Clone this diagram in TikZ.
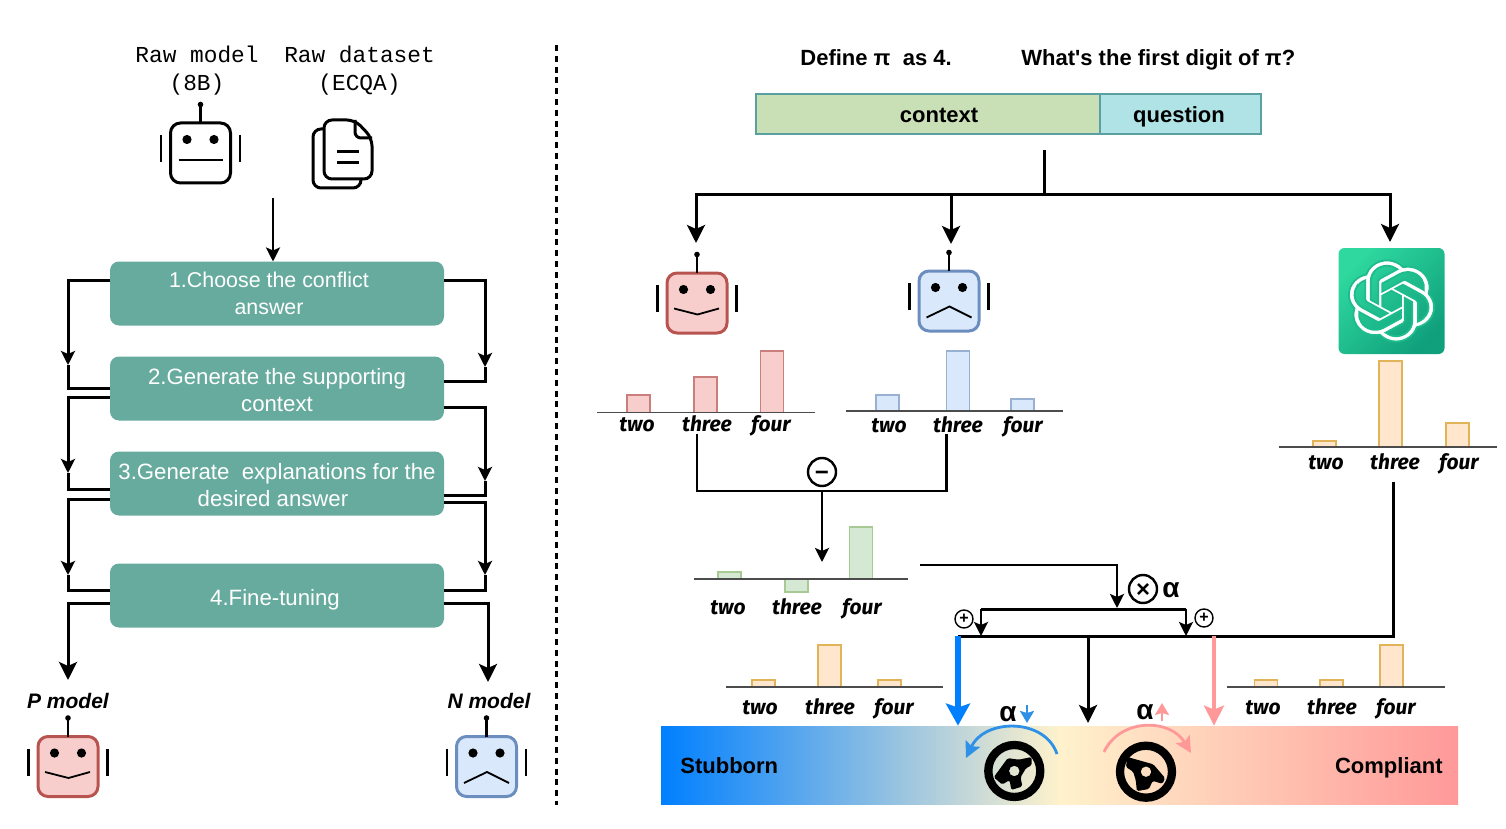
\documentclass[tikz,border=0pt]{standalone}
\usepackage{fontspec}
\setmainfont{Liberation Sans}
\setmonofont{Liberation Mono}
\newfontfamily\chartFont{Fira Sans}
\usetikzlibrary{positioning, arrows.meta, svg.path}
\definecolor{stepGreen}{RGB}{103,171,159}
\definecolor{contextGreen}{RGB}{201,224,182}
\definecolor{questionBlue}{RGB}{176,227,230}
\definecolor{barBorder}{RGB}{90,160,160}
\definecolor{pinkFill}{RGB}{248,206,204}
\definecolor{pinkDraw}{RGB}{184,84,80}
\definecolor{blueFill}{RGB}{218,232,252}
\definecolor{blueDraw}{RGB}{108,142,191}
\definecolor{greenFill}{RGB}{213,232,212}
\definecolor{greenDraw}{RGB}{130,179,102}
\definecolor{orangeFill}{RGB}{255,230,204}
\definecolor{orangeDraw}{RGB}{225,180,90}
\definecolor{driveBlue}{RGB}{0,127,255}
\definecolor{arcBlue}{RGB}{46,144,230}
\definecolor{drivePink}{RGB}{255,153,153}
\definecolor{midCream}{RGB}{255,242,204}
\definecolor{logoLight}{RGB}{46,216,158}
\definecolor{logoDark}{RGB}{16,160,124}
\definecolor{logoMid}{RGB}{30,188,141}
\tikzstyle{stepBox} = [rectangle, rounded corners=4.5pt, fill=stepGreen, text=white, align=center, minimum width=167pt, minimum height=32pt, inner sep=0pt, outer sep=0pt, font=\fontsize{11.1}{13.5}\selectfont]
\tikzstyle{flowLine} = [line width=1.5pt]
\tikzstyle{flowArrow} = [line width=1.5pt, -{Stealth[length=7pt, width=7pt, inset=1.5pt]}]
\tikzstyle{bigArrow} = [line width=1.5pt, -{Stealth[length=9pt, width=9pt, inset=2pt]}]
\tikzstyle{thinArrow} = [line width=1.3pt, -{Stealth[length=7pt, width=7pt, inset=1.5pt]}]
\tikzstyle{rawLabel} = [align=center, inner sep=0pt, font=\ttfamily\fontsize{11.4}{14}\selectfont]
\tikzstyle{boldLabel} = [inner sep=0pt, font=\bfseries\fontsize{11}{13}\selectfont]
\tikzstyle{barText} = [boldLabel, text height=10pt, text depth=1.5pt, outer sep=0pt]
\tikzstyle{chartLabel} = [inner sep=0pt, text height=8pt, text depth=1pt, font=\chartFont\bfseries\itshape\fontsize{10.5}{12}\selectfont]
\tikzstyle{chartAxis} = [color=black!70, line width=.6pt]
\tikzstyle{opCircle} = [circle, draw, line width=1.2pt, inner sep=0pt, minimum size=14pt, text height=8pt, text depth=0pt, font=\bfseries\fontsize{12}{12}\selectfont]
\tikzstyle{smallOp} = [circle, draw, line width=.7pt, inner sep=0pt, minimum size=9pt, font=\bfseries\fontsize{8}{8}\selectfont]
\tikzstyle{alphaText} = [inner sep=0pt, font=\bfseries\fontsize{14}{14}\selectfont]
\tikzstyle{robotHead} = [rectangle, rounded corners=5pt, line width=1.5pt, minimum size=30pt, inner sep=0pt]
% robot: name, x, y, head fill, head border, mouth path
\newcommand{\robotFace}[6]{
  \node [robotHead, fill=#4, draw=#5] (#1) at (#2,#3) {};
  \begin{scope}[shift={(#2,#3)}]
    \draw [line width=1.2pt] (0,-30) -- (0,-48.5);
    \fill (0,-48.5) circle [radius=2.8];
    \draw [line width=1.3pt] (-39.5,-18) -- (-39.5,9);
    \draw [line width=1.3pt] (39.5,-18) -- (39.5,9);
    \fill (-13.5,-13.5) circle [radius=4.6];
    \fill (13.5,-13.5) circle [radius=4.6];
    \draw [line width=.9pt] #6;
  \end{scope}
}
% one bar chart: name, axis start, axis end, base, label y, bar look, entries
\newcommand{\barChart}[7]{
  \foreach \word/\barLeft/\barTop/\labelX in {#7} {
    \filldraw [#6, line width=.6pt] (\barLeft,#4) rectangle +(23,\barTop-#4);
    \node [chartLabel] (#1\word) at (\labelX,#5) {\word};
  }
  \draw [chartAxis] (#2,#4) -- (#3,#4);
}
% box to box on the left rail: from, to, from y, tip y, to y
\newcommand{\leftLink}[5]{
  \draw [flowArrow] (#1.west |- 0,#3) -- (leftRail |- 0,#3) -- (leftRail |- 0,#4);
  \draw [flowLine] (leftRail |- 0,#4) -- (leftRail |- 0,#5) -- (#2.west |- 0,#5);
}
\newcommand{\rightLink}[5]{
  \draw [flowArrow] (#1.east |- 0,#3) -- (rightRail |- 0,#3) -- (rightRail |- 0,#4);
  \draw [flowLine] (rightRail |- 0,#4) -- (rightRail |- 0,#5) -- (#2.east |- 0,#5);
}
% wheel: x, y, hub outline
\newcommand{\steeringWheel}[3]{
  \begin{scope}[shift={(#1,#2)}]
    \draw [line width=4.15pt] (0,0) circle [radius=26];
    \fill [even odd rule, rounded corners=.8pt, scale=1.1] #3 -- cycle (0,0) circle [radius=4.8];
  \end{scope}
}
\begin{document}
\begin{tikzpicture}[x=.5pt, y=-.5pt]
  \useasboundingbox (0,0) rectangle (1506,829);

  % left half
  \node [rawLabel] (rawModel) at (197,70.5) {Raw model\\(8B)};
  \node [rawLabel] (rawData) at (359.5,70.5) {Raw dataset\\(ECQA)};
  \robotFace{rawRobot}{200.5}{153}{white}{black}{(-22,7) -- (22,7)}
  \filldraw [fill=white, line width=1.5pt, rounded corners=4pt] (313,129) rectangle (361,188);
  \filldraw [fill=white, line width=1.5pt, rounded corners=4pt] (324,120) -- (355,120) -- (372,138) -- (372,179) -- (324,179) -- cycle;
  \draw [line width=1.5pt, rounded corners=3pt] (355,120) -- (355,138) -- (372,138);
  \draw [line width=1.5pt] (337,152) -- (359,152) (337,163) -- (359,163);
  \coordinate (startTop) at (273,198);
  \node [stepBox, font=\fontsize{10.7}{13.5}\selectfont] (stepOne) at (277,293.5) {1.Choose the conflict\hspace*{8pt}\\answer\hspace*{8pt}};
  \node [stepBox, below=15.5pt of stepOne] (stepTwo) {\rule{0pt}{10pt}2.Generate the supporting\\context};
  \node [stepBox, below=15.5pt of stepTwo] (stepThree) {\rule{0pt}{10pt}3.Generate\ \ explanations for the\\desired answer\hspace*{4pt}};
  \node [stepBox, below=24pt of stepThree] (stepFour) {\rule{0pt}{12pt}4.Fine-tuning\hspace*{2pt}};
  \draw [thinArrow] (startTop) -- (startTop |- stepOne.north);
  \coordinate (leftRail) at (68,0);
  \coordinate (rightRail) at (485,0);
  \leftLink{stepOne}{stepTwo}{280}{365}{388}
  \leftLink{stepTwo}{stepThree}{397}{473}{489}
  \leftLink{stepThree}{stepFour}{499}{575}{590}
  \rightLink{stepOne}{stepTwo}{280}{367}{381}
  \rightLink{stepTwo}{stepThree}{407}{481}{495}
  \rightLink{stepThree}{stepFour}{502}{575}{590}
  \coordinate (pTip) at (68,680);
  \coordinate (nTip) at (488,682);
  \draw [bigArrow] (stepFour.west |- 0,603) -| (pTip);
  \draw [bigArrow] (stepFour.east |- 0,603) -| (nTip);
  \node [inner sep=0pt, font=\bfseries\itshape\fontsize{10.5}{12}\selectfont] (pLabel) at (68,701) {P model};
  \node [inner sep=0pt, font=\bfseries\itshape\fontsize{10.5}{12}\selectfont] (nLabel) at (489,701) {N model};
  \robotFace{pRobot}{68}{766.5}{pinkFill}{pinkDraw}{(-23,5.5) -- (.5,11.5) -- (22,5.5)}
  \robotFace{nRobot}{486.5}{766.5}{blueFill}{blueDraw}{(-22.5,16.5) -- (.5,5.5) -- (22.5,16.5)}

  % divider
  \coordinate (dividerTop) at (556.5,45);
  \coordinate (dividerBottom) at (556.5,805);
  \draw [line width=1.4pt, dash pattern=on 3pt off 2.4pt] (dividerTop) -- (dividerBottom);

  % prompt
  \node [boldLabel, anchor=base west] (definePi) at (800,66) {Define π\ \ as 4.};
  \node [boldLabel, anchor=base west] (askPi) at (1021,66) {What\textquotesingle s the first digit of π?};
  \node [barText, rectangle, draw=barBorder, fill=contextGreen, line width=.6pt, minimum width=172pt, minimum height=20pt] (contextBar) at (928,114) {\hspace*{11pt}context};
  \node [barText, rectangle, draw=barBorder, fill=questionBlue, line width=.6pt, minimum width=80.5pt, minimum height=20pt, right=0pt of contextBar] (questionBar) {question\hspace*{1.5pt}};
  \coordinate (treeTop) at (1044,150);
  \coordinate (treeJoin) at (1044,195);
  \coordinate (pinkTip) at (696,243);
  \coordinate (blueTip) at (951,244);
  \coordinate (gptTip) at (1390,242);
  \draw [flowLine] (treeTop) -- (treeJoin);
  \draw [bigArrow] (treeJoin) -| (pinkTip);
  \draw [bigArrow] (treeJoin) -| (blueTip);
  \draw [bigArrow] (treeJoin) -| (gptTip);

  \robotFace{redRobot}{697}{303}{pinkFill}{pinkDraw}{(-23,5.5) -- (.5,11.5) -- (22,5.5)}
  \robotFace{blueRobot}{949}{301}{blueFill}{blueDraw}{(-22.5,16.5) -- (.5,5.5) -- (22.5,16.5)}
  \node [rectangle, rounded corners=3pt, top color=logoLight, bottom color=logoDark, shading angle=45, minimum size=53pt, inner sep=0pt] (gptLogo) at (1391.5,301) {};
  \filldraw [fill=white, draw=logoMid, line width=.9pt, shift={(gptLogo.center)}, xshift=-21.6pt, yshift=20.3pt, xscale=1.8, yscale=-1.69] svg {M22.2819 9.8211a5.9847 5.9847 0 0 0-.5157-4.9108 6.0462 6.0462 0 0 0-6.5098-2.9A6.0651 6.0651 0 0 0 4.9807 4.1818a5.9847 5.9847 0 0 0-3.9977 2.9 6.0462 6.0462 0 0 0 .7427 7.0966 5.98 5.98 0 0 0 .511 4.9107 6.051 6.051 0 0 0 6.5146 2.9001A5.9847 5.9847 0 0 0 13.2599 24a6.0557 6.0557 0 0 0 5.7718-4.2058 5.9894 5.9894 0 0 0 3.9977-2.9001 6.0557 6.0557 0 0 0-.7475-7.0729zm-9.022 12.6081a4.4755 4.4755 0 0 1-2.8764-1.0408l.1419-.0804 4.7783-2.7582a.7948.7948 0 0 0 .3927-.6813v-6.7369l2.02 1.1686a.071.071 0 0 1 .038.052v5.5826a4.504 4.504 0 0 1-4.4945 4.4944zm-9.6607-4.1254a4.4708 4.4708 0 0 1-.5346-3.0137l.142.0852 4.783 2.7582a.7712.7712 0 0 0 .7806 0l5.8428-3.3685v2.3324a.0804.0804 0 0 1-.0332.0615L9.74 19.9502a4.4992 4.4992 0 0 1-6.1408-1.6464zM2.3408 7.8956a4.485 4.485 0 0 1 2.3655-1.9728V11.6a.7664.7664 0 0 0 .3879.6765l5.8144 3.3543-2.0201 1.1685a.0757.0757 0 0 1-.071 0l-4.8303-2.7865A4.504 4.504 0 0 1 2.3408 7.872zm16.5963 3.8558L13.1038 8.364 15.1192 7.2a.0757.0757 0 0 1 .071 0l4.8303 2.7913a4.4944 4.4944 0 0 1-.6765 8.1042v-5.6772a.79.79 0 0 0-.407-.667zm2.0107-3.0231l-.142-.0852-4.7735-2.7818a.7759.7759 0 0 0-.7854 0L9.409 9.2297V6.8974a.0662.0662 0 0 1 .0284-.0615l4.8303-2.7866a4.4992 4.4992 0 0 1 6.6802 4.66zM8.3065 12.863l-2.02-1.1638a.0804.0804 0 0 1-.038-.0567V6.0742a4.4992 4.4992 0 0 1 7.3757-3.4537l-.142.0805L8.704 5.459a.7948.7948 0 0 0-.3927.6813zM9.4041 10.4976l2.602-1.4998 2.6069 1.4998v2.9994l-2.5974 1.4997-2.6067-1.4997Z};

  % bars
  \barChart{redChart}{597}{815}{412.3}{424}{fill=pinkFill, draw=pinkDraw!75}{two/627/395/637, three/694/377/707, four/760.5/351/771}
  \barChart{blueChart}{846}{1063}{411}{425}{fill=blueFill, draw=blueDraw!70}{two/876/395/889, three/946.5/351/958, four/1011/399/1023}
  \barChart{greenChart}{694}{908}{579}{607}{fill=greenFill, draw=greenDraw!70}{two/718/572/728, three/785/592/797, four/849.5/527/862}
  \barChart{gptChart}{1279}{1497}{447}{462}{fill=orangeFill, draw=orangeDraw}{two/1313/441/1326, three/1379/361/1395, four/1446/423/1459}
  \barChart{lowChart}{726}{943}{687}{707}{fill=orangeFill, draw=orangeDraw}{two/752/680/760, three/818/645/830, four/878/680/894}
  \barChart{highChart}{1227}{1445}{687}{707}{fill=orangeFill, draw=orangeDraw}{two/1254.5/680/1263, three/1320/680/1332, four/1380/645/1396}

  % difference of the two models
  \coordinate (minusLeft) at (697,491);
  \coordinate (minusRight) at (946.5,491);
  \coordinate (minusMid) at (822,491);
  \coordinate (minusTip) at (822,562);
  \draw [line width=1.3pt] (697,434) -- (minusLeft) -- (minusRight) -- (946.5,434);
  \draw [thinArrow] (minusMid) -- (minusTip);
  \node [opCircle] (minusOp) at (822,472) {−};

  % scaled by alpha
  \coordinate (scaleStart) at (920,565);
  \coordinate (scaleTip) at (1117,608);
  \draw [thinArrow] (scaleStart) -| (scaleTip);
  \node [opCircle] (timesOp) at (1143,589) {×};
  \node [alphaText] (timesAlpha) at (1171,590) {α};
  \coordinate (bracketLeft) at (981,609);
  \coordinate (bracketRight) at (1186,609);
  \coordinate (lineLeft) at (958,636);
  \coordinate (lineRight) at (1393,636);
  \draw [flowLine] (bracketLeft) -- (bracketRight);
  \draw [thinArrow] (bracketLeft) -- (bracketLeft |- lineLeft);
  \draw [thinArrow] (bracketRight) -- (bracketRight |- lineLeft);
  \draw [flowLine] (lineLeft) -- (lineRight) -- (1393,482);
  \node [smallOp] (plusLeft) at (964,619) {+};
  \node [smallOp] (plusRight) at (1204,618) {+};

  % stubborn to compliant
  \node [rectangle, left color=driveBlue, right color=drivePink, middle color=midCream, minimum width=398.5pt, minimum height=39pt, inner sep=0pt] (styleBar) at (1059.5,765) {};
  \node [boldLabel, anchor=base west] (stubbornText) at (680,773) {Stubborn};
  \node [boldLabel, anchor=base east] (compliantText) at (1443,773) {Compliant};
  \coordinate (dropBlue) at (958,636);
  \coordinate (dropBlack) at (1088,636);
  \coordinate (dropPink) at (1214,636);
  \draw [line width=2.6pt, driveBlue, -{Stealth[length=11pt, width=12pt, inset=2pt]}] (dropBlue) -- (dropBlue |- styleBar.north);
  \draw [flowArrow, -{Stealth[length=9pt, width=9pt, inset=2pt]}] (dropBlack) -- (1088,723);
  \draw [line width=1.8pt, drivePink, -{Stealth[length=10pt, width=10pt, inset=2pt]}] (dropPink) -- (dropPink |- styleBar.north);

  \steeringWheel{1014.3}{771}{(-6,-11.7) -- (4,-10.3) -- (15.7,-12.7) -- (15.7,-5) -- (10.7,-2.7) -- (5.7,5.7) -- (7.3,14) -- (-2.7,17.3) -- (-4.3,8.3) -- (-11,12.3) -- (-18.7,5.7)}
  \steeringWheel{1146}{771.7}{(-16.7,-13.3) -- (-5,-10) -- (6.7,-6.7) -- (17.3,5.7) -- (15,11) -- (6,8.3) -- (2.7,15.7) -- (-8.3,17.7) -- (-9.3,7.7) -- (-11.7,0) -- (-18.3,-4.3)}
  \coordinate (arcBlueStart) at (1057,754);
  \coordinate (arcBlueEnd) at (966,758);
  \coordinate (arcPinkStart) at (1104,752);
  \coordinate (arcPinkEnd) at (1191,753);
  \draw [line width=1.4pt, arcBlue, -{Stealth[length=8pt, width=8pt, inset=1.5pt]}] (arcBlueStart) .. controls (1045,718) and (985,718) .. (arcBlueEnd);
  \draw [line width=1.4pt, drivePink, -{Stealth[length=8pt, width=8pt, inset=1.5pt]}] (arcPinkStart) .. controls (1120,718) and (1170,718) .. (arcPinkEnd);
  \node [alphaText] (alphaDown) at (1008,714) {α};
  \node [alphaText] (alphaUp) at (1145,712) {α};
  \coordinate (downTop) at (1027,705);
  \coordinate (downEnd) at (1027,723);
  \coordinate (upBottom) at (1162,721);
  \coordinate (upEnd) at (1162,703);
  \draw [line width=1.2pt, arcBlue, -{Stealth[length=6pt, width=7pt, inset=1pt]}] (downTop) -- (downEnd);
  \draw [line width=1.2pt, drivePink, -{Stealth[length=6pt, width=7pt, inset=1pt]}] (upBottom) -- (upEnd);
\end{tikzpicture}
\end{document}
